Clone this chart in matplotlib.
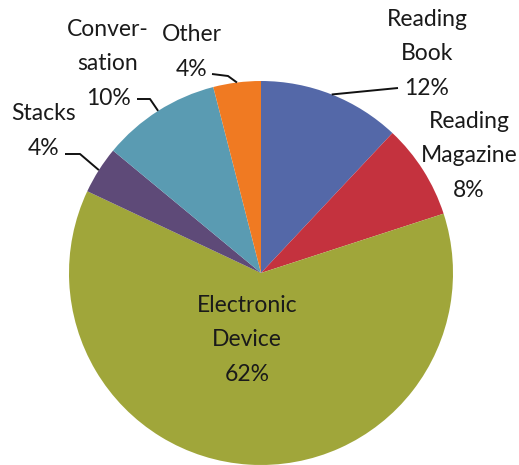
import numpy as np
import matplotlib
matplotlib.use("Agg")
import matplotlib.pyplot as plt

# activity shares, clockwise from 12 o'clock
labels = ["Reading\nBook", "Reading\nMagazine", "Electronic\nDevice",
          "Stacks", "Conver-\nsation", "Other"]
shares = [12, 8, 62, 4, 10, 4]
colors = ["#5468a8", "#c4323e", "#a0a63a", "#5e4a78", "#5a9bb2", "#f07a22"]

plt.rcParams["font.family"] = ["Lato", "DejaVu Sans"]

W, H = 519, 465
fig = plt.figure(figsize=(W / 100, H / 100), dpi=100)
ax = fig.add_axes([0, 0, 1, 1])

cx, cy, r = 261, 192, 192
wedges, _ = ax.pie(shares, colors=colors, startangle=90, counterclock=False,
                   center=(cx, cy), radius=r, frame=True,
                   wedgeprops=dict(linewidth=0))
ax.set_xlim(0, W)
ax.set_ylim(0, H)
ax.set_aspect("auto")
ax.axis("off")

def edge_point(w):
    a = np.deg2rad((w.theta1 + w.theta2) / 2)
    return cx + r * np.cos(a), cy + r * np.sin(a)

# label centres and leader elbow/end points
label_pos = {0: (427, 411), 1: (469, 309), 2: (247, 125),
             3: (44, 334), 4: (108, 401), 5: (192, 413)}
leader_end = {0: (398, 377), 3: (65, 311), 4: (137, 366), 5: (212, 391)}
leader_elbow = {3: (80, 311), 4: (150, 366), 5: (228, 389)}

fs = 16.5
for i, w in enumerate(wedges):
    txt = "%s\n%d%%" % (labels[i], shares[i])
    x, y = label_pos[i]
    ax.text(x, y, txt, ha="center", va="center", fontsize=fs,
            color="#1a1a1a", linespacing=1.8)
    if i in leader_end:
        ex, ey = edge_point(w)
        pts = [(ex, ey)]
        if i in leader_elbow:
            pts.append(leader_elbow[i])
        pts.append(leader_end[i])
        xs, ys = zip(*pts)
        ax.plot(xs, ys, color="#111111", lw=1.4, solid_capstyle="butt")

fig.savefig("out.png", dpi=100, facecolor="white")
